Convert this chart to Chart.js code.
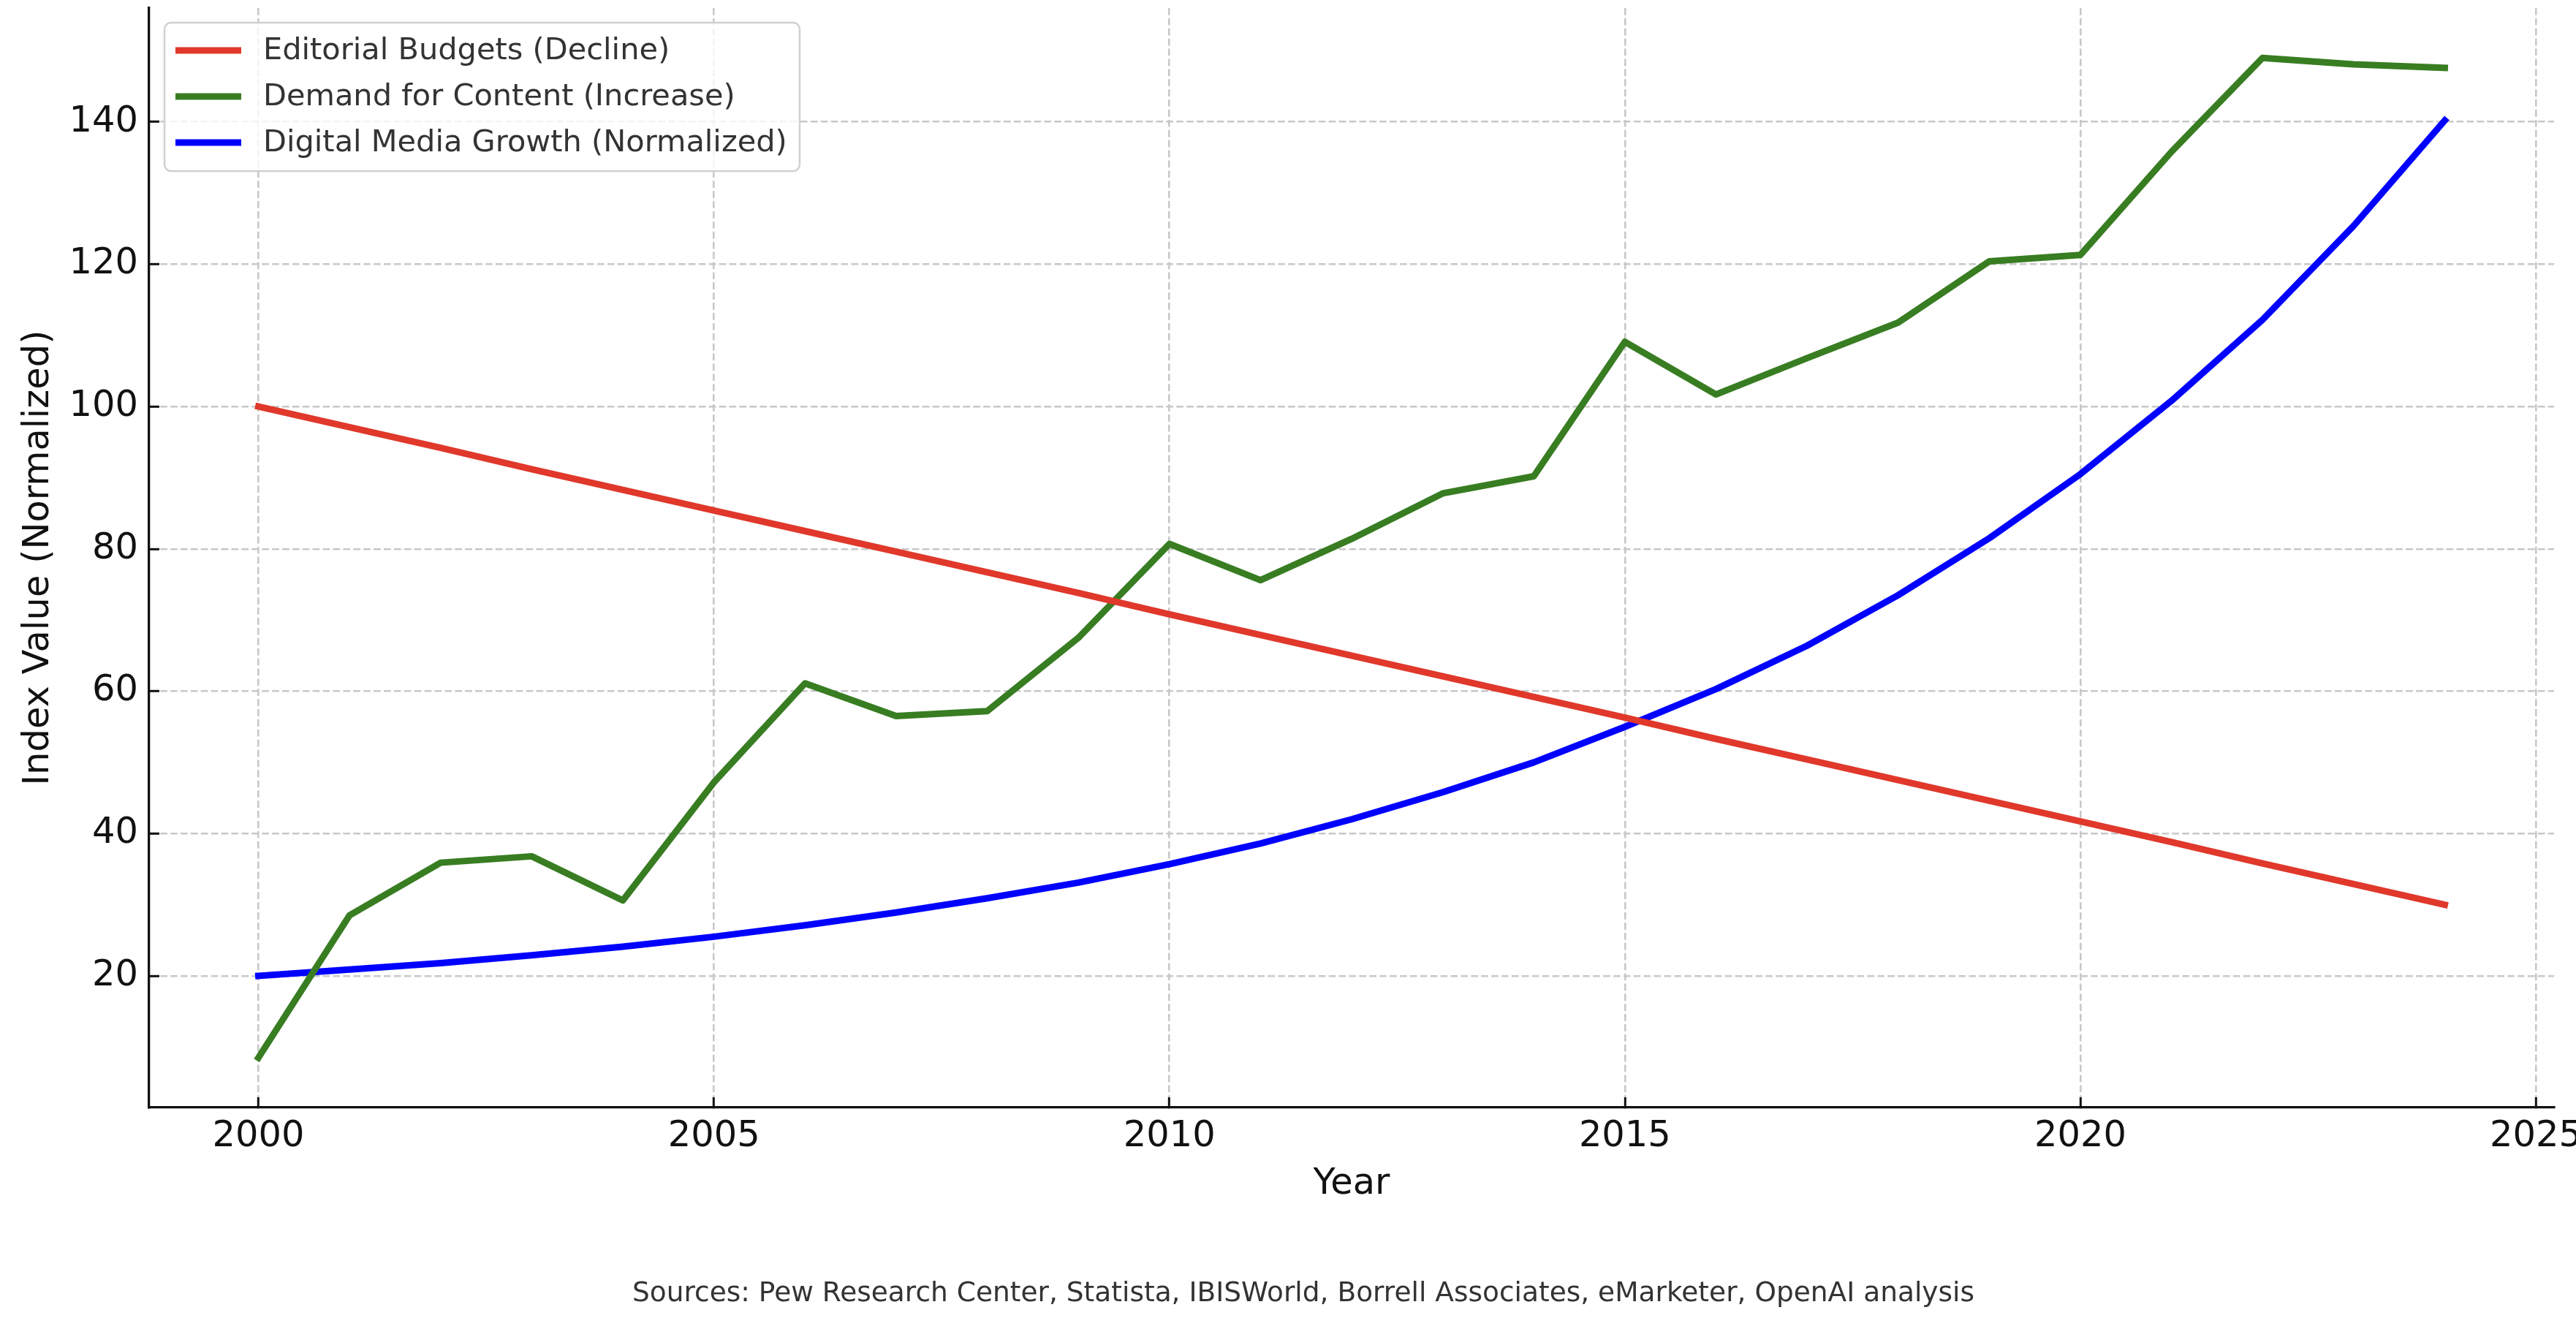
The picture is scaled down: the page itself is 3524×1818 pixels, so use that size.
<!DOCTYPE html>
<html>
<head>
<meta charset="utf-8">
<script src="https://cdn.jsdelivr.net/npm/chart.js@4.4.1/dist/chart.umd.min.js"></script>
<style>
  html, body { margin: 0; padding: 0; background: #fff; }
  canvas { display: block; }
</style>
</head>
<body>
<canvas id="myChart" width="3524" height="1818" style="width:3524px;height:1818px"></canvas>
<script>
// years on the x axis
var years = [2000, 2001, 2002, 2003, 2004, 2005, 2006, 2007, 2008, 2009, 2010, 2011, 2012,
             2013, 2014, 2015, 2016, 2017, 2018, 2019, 2020, 2021, 2022, 2023, 2024];

// series
var editorialBudgets = [100, 97.1, 94.2, 91.2, 88.3, 85.4, 82.5, 79.6, 76.7, 73.8, 70.8, 67.9, 65.0,
                        62.1, 59.2, 56.3, 53.3, 50.4, 47.5, 44.6, 41.7, 38.8, 35.8, 32.9, 30.0];
var contentDemand = [8.5, 28.5, 35.9, 36.8, 30.6, 47.2, 61.1, 56.5, 57.2, 67.5, 80.7, 75.6, 81.4,
                     87.8, 90.2, 109.1, 101.7, 106.8, 111.8, 120.4, 121.3, 135.8, 149.0, 148.1, 147.6];
var digitalGrowth = [20.0, 20.9, 21.8, 22.9, 24.1, 25.5, 27.1, 28.9, 30.9, 33.1, 35.7, 38.6, 42.0,
                     45.8, 50.0, 55.0, 60.3, 66.4, 73.5, 81.5, 90.5, 100.8, 112.2, 125.4, 140.2];

var seriesNames = ['Editorial Budgets (Decline)', 'Demand for Content (Increase)', 'Digital Media Growth (Normalized)'];
var xTicks = [2000, 2005, 2010, 2015, 2020, 2025];
var yTicks = [20, 40, 60, 80, 100, 120, 140];
var sourceNote = 'Sources: Pew Research Center, Statista, IBISWorld, Borrell Associates, eMarketer, OpenAI analysis';

var FONT = "'DejaVu Sans', sans-serif";
var LINE_W = 9;

function pts(vals) {
    return years.map(function (yr, i) { return { x: yr, y: vals[i] }; });
}

// legend box + source line, matplotlib style
var extras = {
    id: 'extras',
    afterDraw: function (chart) {
        var c = chart.ctx;
        c.save();
        var bx = 225, by = 31, bw = 869, bh = 203, r = 9;
        c.beginPath();
        c.roundRect(bx, by, bw, bh, r);
        c.fillStyle = 'rgba(255,255,255,0.8)';
        c.fill();
        c.lineWidth = 2.5;
        c.strokeStyle = '#d0d0d0';
        c.stroke();
        c.font = '41.5px ' + FONT;
        c.textBaseline = 'middle';
        c.textAlign = 'left';
        chart.data.datasets.forEach(function (ds, i) {
            var y = 69 + i * 63;
            c.beginPath();
            c.moveTo(240, y);
            c.lineTo(330, y);
            c.lineWidth = LINE_W;
            c.strokeStyle = ds.borderColor;
            c.stroke();
            c.fillStyle = '#333333';
            c.fillText(ds.label, 360, y + 1);
        });
        c.font = '37.5px ' + FONT;
        c.textAlign = 'center';
        c.fillStyle = '#333333';
        c.fillText(sourceNote, 1783, 1770);
        c.restore();
    }
};

var gridOpts = {
    color: '#c8c8c8',
    lineWidth: 2.6,
    tickColor: '#111111',
    tickWidth: 3,
    tickLength: -14,
    tickBorderDash: []
};

var ctx = document.getElementById('myChart').getContext('2d');
var chart = new Chart(ctx, {
    type: 'line',
    data: {
        datasets: [{
            label: seriesNames[0],
            data: pts(editorialBudgets),
            borderColor: '#e0382b'
        }, {
            label: seriesNames[1],
            data: pts(contentDemand),
            borderColor: '#387d22'
        }, {
            label: seriesNames[2],
            data: pts(digitalGrowth),
            borderColor: '#0000ff'
        }]
    },
    plugins: [extras],
    options: {
        responsive: false,
        devicePixelRatio: 1,
        animation: false,
        layout: { padding: { left: 0, right: 30, top: 11, bottom: 168 } },
        elements: {
            line: { tension: 0, borderWidth: LINE_W, borderCapStyle: 'square', borderJoinStyle: 'round', fill: false },
            point: { radius: 0, hoverRadius: 0 }
        },
        plugins: {
            legend: { display: false },
            tooltip: { enabled: false }
        },
        scales: {
            x: {
                type: 'linear',
                min: 1998.8,
                max: 2025.2,
                afterBuildTicks: function (s) { s.ticks = xTicks.map(function (v) { return { value: v }; }); },
                afterFit: function (s) { s.height = 135; s.paddingLeft = 0; s.paddingRight = 0; },
                grid: gridOpts,
                border: { display: true, color: '#111111', width: 3.3, dash: [9.7, 4.2] },
                ticks: {
                    padding: 24,
                    color: '#111111',
                    font: { family: FONT, size: 49.5 },
                    maxRotation: 0,
                    callback: function (v) { return String(v); }
                },
                title: {
                    display: true,
                    text: 'Year',
                    color: '#111111',
                    font: { family: FONT, size: 49.5 },
                    padding: { top: 0, bottom: 0 }
                }
            },
            y: {
                min: 1.5,
                max: 156,
                afterBuildTicks: function (s) { s.ticks = yTicks.map(function (v) { return { value: v }; }); },
                afterFit: function (s) { s.width = 204; s.paddingTop = 0; s.paddingBottom = 0; },
                grid: gridOpts,
                border: { display: true, color: '#111111', width: 3.3, dash: [9.7, 4.2] },
                ticks: {
                    padding: 29,
                    color: '#111111',
                    font: { family: FONT, size: 49.5 }
                },
                title: {
                    display: true,
                    text: 'Index Value (Normalized)',
                    color: '#111111',
                    font: { family: FONT, size: 49.5 },
                    padding: { top: 23, bottom: 0 }
                }
            }
        }
    }
});
</script>
</body>
</html>
